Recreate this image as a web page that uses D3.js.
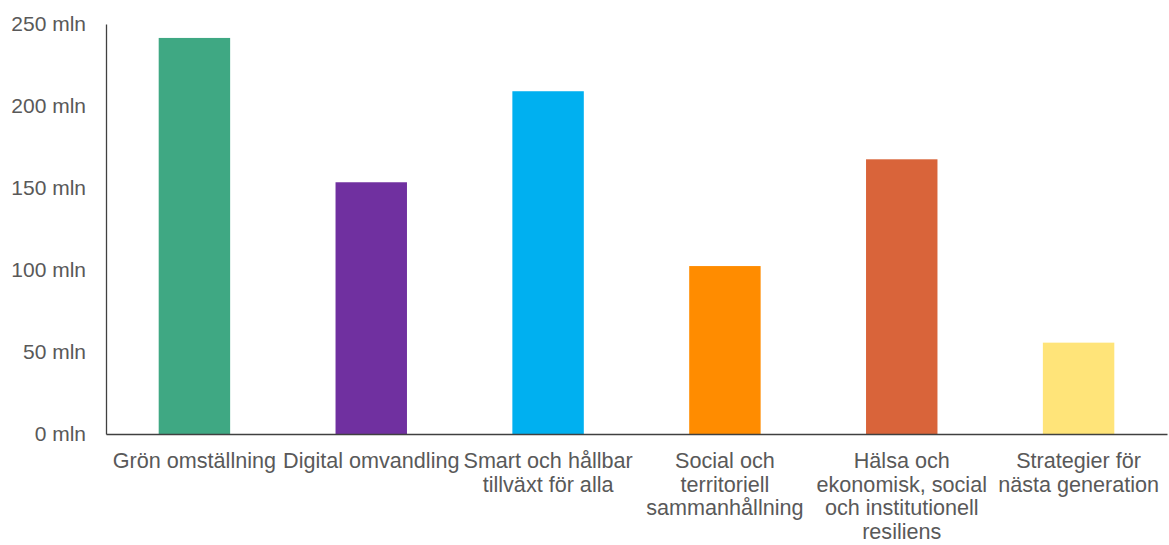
<!DOCTYPE html>
<html>
<head>
<meta charset="utf-8">
<script src="https://cdn.jsdelivr.net/npm/d3@7"></script>
<style>
  body { margin: 0; background: #fff; }
  svg { display: block; }
  text { font-family: "Liberation Sans", Arial, sans-serif; fill: #595959; }
</style>
</head>
<body>
<svg id="chart" width="1169" height="545"></svg>
<script>
const categories = ["Grön omställning", "Digital omvandling", "Smart och hållbar tillväxt för alla", "Social och territoriell sammanhållning", "Hälsa och ekonomisk, social och institutionell resiliens", "Strategier för nästa generation"];
const categoryLines = [
  ["Grön omställning"],
  ["Digital omvandling"],
  ["Smart och hållbar", "tillväxt för alla"],
  ["Social och", "territoriell", "sammanhållning"],
  ["Hälsa och", "ekonomisk, social", "och institutionell", "resiliens"],
  ["Strategier för", "nästa generation"]
];
const values = [241.5, 153.5, 209, 102.4, 167.5, 55.7];
const colors = ["#3FA883", "#7030A0", "#00B0F0", "#FF8C00", "#D9643A", "#FFE479"];
const yTicks = [0, 50, 100, 150, 200, 250];
const yTickLabels = ["0 mln", "50 mln", "100 mln", "150 mln", "200 mln", "250 mln"];

const svg = d3.select("#chart");
const mLeft = 106, mRight = 1167, mTop = 24, mBottom = 434;

const x = d3.scaleBand().domain(categories).range([mLeft, mRight]).paddingInner(0.596).paddingOuter(0.298);
const y = d3.scaleLinear().domain([0, 250]).range([mBottom, mTop]);

// bars
svg.append("g").selectAll("rect").data(categories).join("rect")
  .attr("x", d => x(d))
  .attr("width", x.bandwidth())
  .attr("y", (d, i) => y(values[i]))
  .attr("height", (d, i) => y(0) - y(values[i]))
  .attr("fill", (d, i) => colors[i]);

// y axis
const yAxis = d3.axisLeft(y).tickValues(yTicks).tickSize(0).tickPadding(20)
  .tickFormat((d, i) => yTickLabels[i]);
const gy = svg.append("g").attr("transform", `translate(${mLeft},0)`).call(yAxis);
gy.select(".domain").attr("stroke", "#404040").attr("stroke-width", 1.3);
gy.selectAll("text").attr("font-size", 21).attr("fill", "#595959")
  .style("font-family", "'Liberation Sans', Arial, sans-serif");

// x axis
const xAxis = d3.axisBottom(x).tickSize(0).tickFormat("");
const gx = svg.append("g").attr("transform", `translate(0,${mBottom})`).call(xAxis);
gx.select(".domain").attr("stroke", "#404040").attr("stroke-width", 1.6);

// category labels
const lab = svg.append("g").selectAll("text").data(categories).join("text")
  .attr("text-anchor", "middle")
  .attr("font-size", 21.6)
  .attr("transform", d => `translate(${x(d) + x.bandwidth() / 2},${mBottom + 34})`);
lab.selectAll("tspan").data((d, i) => categoryLines[i]).join("tspan")
  .attr("x", 0)
  .attr("dy", (d, j) => j === 0 ? 0 : 23.5)
  .text(d => d);
</script>
</body>
</html>
